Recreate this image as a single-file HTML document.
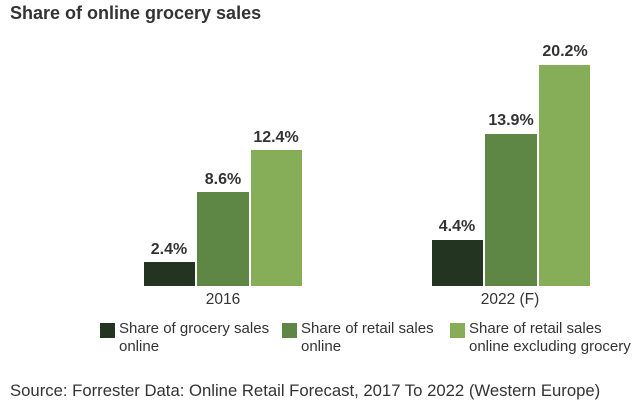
<!DOCTYPE html>
<html><head><meta charset="utf-8"><style>
body{margin:0;background:#fff;width:637px;height:404px;overflow:hidden;font-family:"Liberation Sans",sans-serif;color:#333}
.a{position:absolute}
.b{position:absolute;bottom:118px}
.v{position:absolute;font-weight:bold;font-size:16px;text-align:center;width:70px;color:#333}
.l{position:absolute;font-size:15px;line-height:18px;color:#333}
.s{position:absolute;width:15px;height:15px;top:323px}
</style></head><body>
<div class="a" style="left:10px;top:3px;font-size:18px;font-weight:bold;color:#333">Share of online grocery sales</div>
<div class="b" style="left:144px;width:51px;height:24px;background:#233420"></div>
<div class="b" style="left:197px;width:52px;height:94px;background:#5e8644"></div>
<div class="b" style="left:251px;width:51px;height:136px;background:#86ad57"></div>
<div class="v" style="left:134px;top:241px">2.4%</div>
<div class="v" style="left:188px;top:171px">8.6%</div>
<div class="v" style="left:241px;top:129px">12.4%</div>
<div class="b" style="left:432px;width:51px;height:46px;background:#233420"></div>
<div class="b" style="left:485px;width:52px;height:152px;background:#5e8644"></div>
<div class="b" style="left:539px;width:51px;height:221px;background:#86ad57"></div>
<div class="v" style="left:422px;top:218px">4.4%</div>
<div class="v" style="left:476px;top:112px">13.9%</div>
<div class="v" style="left:530px;top:43px">20.2%</div>
<div class="a" style="left:193px;top:291px;width:60px;text-align:center;font-size:15.5px">2016</div>
<div class="a" style="left:470px;top:291px;width:80px;text-align:center;font-size:15.5px">2022 (F)</div>
<div class="s" style="left:100px;background:#233420"></div>
<div class="l" style="left:119px;top:320px">Share of grocery sales<br>online</div>
<div class="s" style="left:282px;background:#5e8644"></div>
<div class="l" style="left:301px;top:320px">Share of retail sales<br>online</div>
<div class="s" style="left:450px;background:#86ad57"></div>
<div class="l" style="left:469px;top:320px">Share of retail sales<br>online excluding grocery</div>
<div class="a" style="left:10px;top:381px;font-size:16.7px;color:#333">Source: Forrester Data: Online Retail Forecast, 2017 To 2022 (Western Europe)</div>
</body></html>
